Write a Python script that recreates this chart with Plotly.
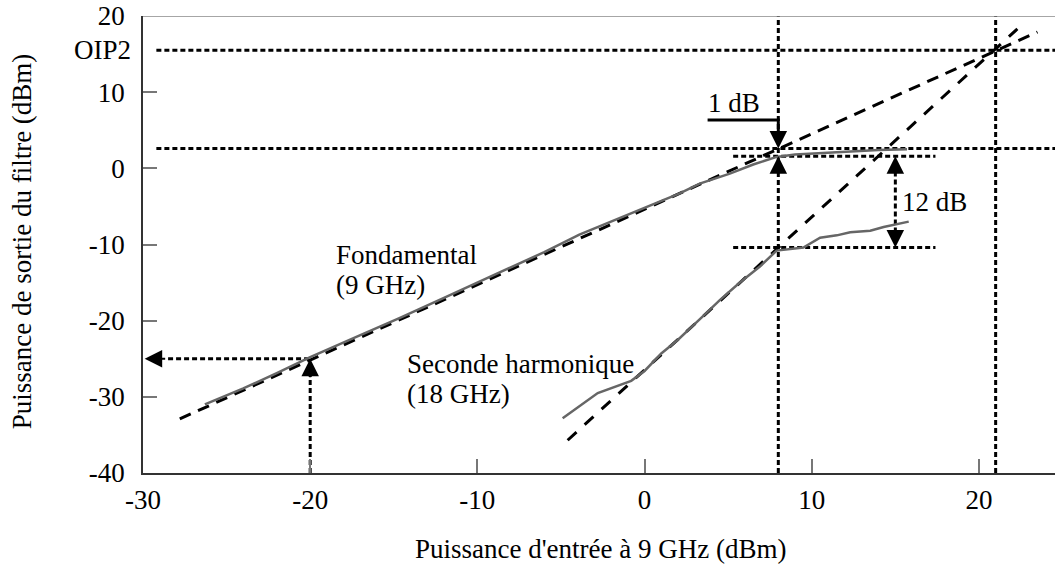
import plotly.graph_objects as go

# Measured fundamental output (9 GHz) versus input power
fund_pin = [-26.3, -24.0, -22.0, -20.0, -17.0, -14.7, -12.0, -10.0, -7.9, -6.0,
            -3.9, -2.0, 0.0, 2.1, 3.3, 5.1, 6.5, 7.9, 9.0, 10.5, 12.0, 14.0, 15.7]
fund_pout = [-31.0, -28.9, -26.9, -24.8, -21.9, -19.7, -17.0, -15.0, -12.9, -11.0,
             -8.7, -7.0, -5.2, -3.3, -2.0, -0.7, 0.5, 1.5, 1.8, 2.0, 2.2, 2.4, 2.5]

# Measured second harmonic output (18 GHz)
harm_pin = [-4.9, -2.8, -0.8, 0.0, 1.0, 2.0, 3.5, 4.5, 5.7, 6.9, 7.9,
            9.5, 10.5, 11.5, 12.3, 13.5, 14.3, 15.8]
harm_pout = [-32.8, -29.5, -27.9, -26.6, -24.3, -22.5, -19.4, -17.3, -15.0, -12.9, -10.8,
             -10.4, -9.1, -8.8, -8.4, -8.2, -7.7, -7.0]

# Small-signal extrapolations (slope 1 and slope 2)
fund_lin_pin = [-27.8, 23.5]
fund_lin_pout = [-32.9, 17.9]
harm_lin_pin = [-4.6, 22.3]
harm_lin_pout = [-35.7, 18.3]

# Characteristic levels
P1DB_IN = 8.0        # input power at 1 dB compression
OIP2_IN = 21.0       # input power at the intercept point
OIP2 = 15.5          # second-order output intercept point
LIN_AT_P1DB = 2.6    # extrapolated fundamental at P1dB
FUND_AT_P1DB = 1.6   # compressed fundamental at P1dB
HARM_AT_P1DB = -10.4 # second harmonic at P1dB
EX_PIN = -20.0       # worked example
EX_POUT = -25.0
GAP_X = 15.0         # abscissa of the 12 dB marker

X_MIN, X_MAX = -30.0, 24.55
Y_MIN, Y_MAX = -40.0, 20.0

x_ticks = [-30, -20, -10, 0, 10, 20]
x_labels = ["-30", "-20", "-10", "0", "10", "20"]
y_ticks = [-40, -30, -20, -10, 0, 10, 20]
y_labels = ["-40", "-30", "-20", "-10", "0", "10", "20"]

FONT = "Liberation Serif, Times New Roman, serif"
DOT = dict(color="black", width=3, dash="5px,3px")
GRAY = "#666666"

fig = go.Figure()


def seg(xs, ys, line):
    fig.add_trace(go.Scatter(x=xs, y=ys, mode="lines", line=line,
                             hoverinfo="skip", showlegend=False))


# dotted construction lines
seg([-29.2, X_MAX], [OIP2, OIP2], DOT)
seg([-29.2, X_MAX], [LIN_AT_P1DB, LIN_AT_P1DB], DOT)
seg([5.3, 17.4], [FUND_AT_P1DB, FUND_AT_P1DB], DOT)
seg([5.3, 17.4], [HARM_AT_P1DB, HARM_AT_P1DB], DOT)
seg([P1DB_IN, P1DB_IN], [Y_MIN, Y_MAX], DOT)
seg([OIP2_IN, OIP2_IN], [Y_MIN, Y_MAX], DOT)
seg([EX_PIN, EX_PIN], [Y_MIN, EX_POUT - 2.0], DOT)
seg([-28.5, EX_PIN], [EX_POUT, EX_POUT], DOT)
seg([GAP_X, GAP_X], [FUND_AT_P1DB - 2.0, HARM_AT_P1DB + 2.0], DOT)

# dashed extrapolations
seg(fund_lin_pin, fund_lin_pout, dict(color="black", width=3, dash="12px,8px"))
seg(harm_lin_pin, harm_lin_pout, dict(color="black", width=3, dash="12px,11px"))

# measured curves
seg(fund_pin, fund_pout, dict(color=GRAY, width=2.5))
seg(harm_pin, harm_pout, dict(color=GRAY, width=2.5))

# "1 dB" leader line
seg([3.77, P1DB_IN, P1DB_IN], [6.33, 6.33, LIN_AT_P1DB + 2.3],
    dict(color="black", width=3))


def head(x, y, ax, ay):
    fig.add_annotation(x=x, y=y, ax=ax, ay=ay, xref="x", yref="y",
                       text="", showarrow=True, arrowhead=2, arrowsize=1.75,
                       arrowwidth=2, arrowcolor="black", standoff=0)


head(-29.9, EX_POUT, 22, 0)
head(EX_PIN, EX_POUT, 0, 20)
head(P1DB_IN, FUND_AT_P1DB, 0, 19)
head(P1DB_IN, LIN_AT_P1DB, 0, -19)
head(GAP_X, FUND_AT_P1DB, 0, 19)
head(GAP_X, HARM_AT_P1DB, 0, -19)


def label(text, x, y, **kw):
    fig.add_annotation(x=x, y=y, text=text, showarrow=False, xanchor="left",
                       yanchor="middle", font=dict(family=FONT, size=27, color="black"), **kw)


label("Fondamental", -18.6, -11.4)
label("(9 GHz)", -18.6, -15.3)
label("Seconde harmonique", -14.3, -25.65)
label("(18 GHz)", -14.3, -29.6)
label("1 dB", 3.7, 8.55)
label("12 dB", 15.3, -4.4)

fig.add_annotation(xref="paper", x=0, y=OIP2, yref="y", text="OIP2", showarrow=False,
                   xanchor="right", yanchor="middle", xshift=-10,
                   font=dict(family=FONT, size=27, color="black"))

# axis titles
fig.add_annotation(xref="paper", yref="paper", x=0.5027, y=0, yshift=-76,
                   text="Puissance d'entrée à 9 GHz (dBm)", showarrow=False,
                   xanchor="center", yanchor="middle",
                   font=dict(family=FONT, size=27, color="black"))
fig.add_annotation(xref="paper", yref="paper", x=0, y=0.507, xshift=-121,
                   text="Puissance de sortie du filtre (dBm)", showarrow=False,
                   textangle=-90, xanchor="center", yanchor="middle",
                   font=dict(family=FONT, size=27, color="black"))

# top frame line
fig.add_shape(type="line", xref="paper", yref="y", x0=0, x1=1, y0=Y_MAX, y1=Y_MAX,
              line=dict(color="#888888", width=1.5))

fig.update_xaxes(range=[X_MIN, X_MAX], tickvals=x_ticks, ticktext=x_labels,
                 ticks="inside", ticklen=14, tickwidth=1.5, tickcolor="#777777",
                 showline=True, linecolor="#333333", linewidth=1.5,
                 showgrid=False, zeroline=False, ticklabelstandoff=2,
                 tickfont=dict(family=FONT, size=27, color="black"))
fig.update_yaxes(range=[Y_MIN, Y_MAX], tickvals=y_ticks, ticktext=y_labels,
                 ticks="inside", ticklen=14, tickwidth=1.5, tickcolor="#777777",
                 showline=True, linecolor="#333333", linewidth=1.5,
                 showgrid=False, zeroline=False, ticklabelstandoff=11,
                 tickfont=dict(family=FONT, size=27, color="black"))

fig.update_layout(width=1055, height=568, margin=dict(l=143, r=0, t=16, b=95),
                  paper_bgcolor="white", plot_bgcolor="white", showlegend=False,
                  font=dict(family=FONT, size=27, color="black"))

fig.write_html("out.html")
